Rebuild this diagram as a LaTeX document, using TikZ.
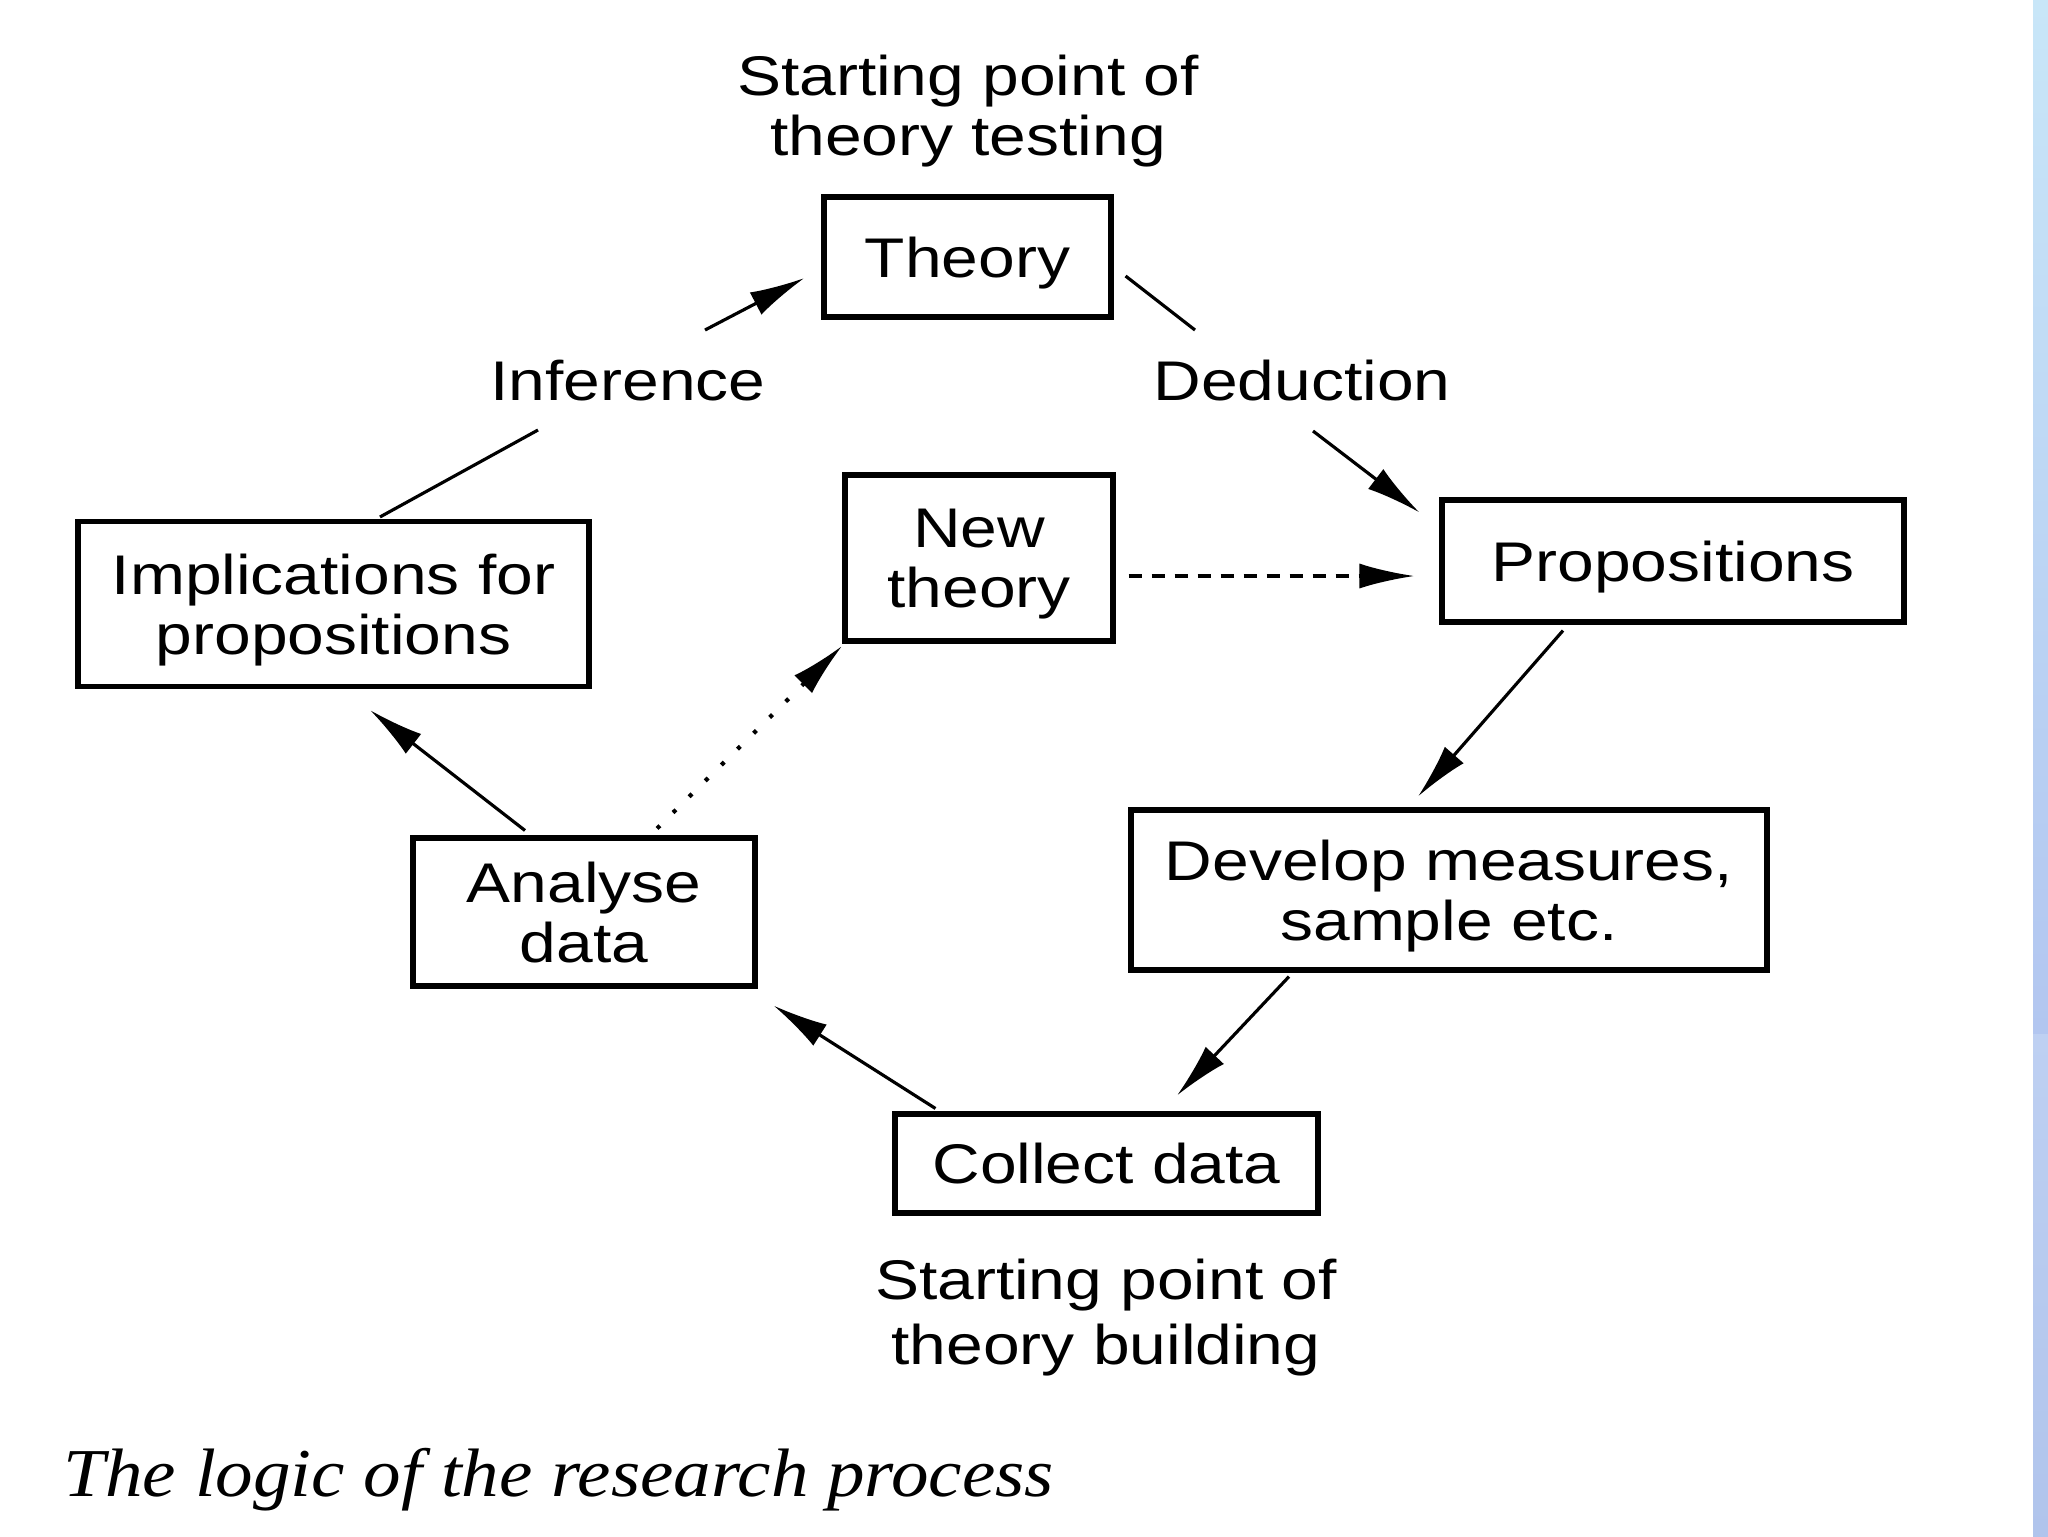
\documentclass[tikz,border=0pt]{standalone}
\usepackage{fontspec}
\setmainfont{Liberation Sans}[FakeStretch=1.18]
\newfontfamily\capfont{Liberation Serif}
\usepackage{graphicx}
\usetikzlibrary{arrows.meta,calc}
\newcommand{\diagfont}{\fontsize{15.9pt}{17.07pt}\selectfont}
\newcommand{\nd}[1]{\raisebox{0pt}[\height][0pt]{#1}}
\definecolor{stripA}{RGB}{200,230,248}
\definecolor{stripB}{RGB}{178,198,240}
\definecolor{stripC}{RGB}{190,208,242}
\definecolor{stripD}{RGB}{176,196,236}
\begin{document}
\begin{tikzpicture}[x=0.1mm,y=-0.1mm,
  box/.style={draw=black, line width=1.45pt, inner sep=0pt, align=center, font=\diagfont},
  lbl/.style={inner sep=0pt, align=center, font=\diagfont},
  conn/.style={line width=0.9pt, black},
  arr/.style={conn, -{Latex[length=5.5mm,width=2.5mm]}},
  dashedline/.style={dash pattern=on 1.3mm off 1.0mm},
  dottedline/.style={line width=1.2pt, dash pattern=on 0.4mm off 1.86mm},
]
\useasboundingbox (0,0) rectangle (2048,1536);
\fill[white] (0,0) rectangle (2048,1536);
\shade[top color=stripA, bottom color=stripB] (2033,0) rectangle (2048,1034);
\shade[top color=stripC, bottom color=stripD] (2033,1034) rectangle (2048,1536);

% labels
\node[lbl] (toptext) at (968,105) {Starting point of\\\nd{theory testing}};
\node[lbl] (inf) at (628,380) {\nd{Inference}};
\node[lbl] (ded) at (1302,380) {\nd{Deduction}};
\node[lbl, font=\fontsize{15.9pt}{18.5pt}\selectfont] (bottext) at (1106,1312) {Starting point of\\\nd{theory building}};

% boxes
\node[box, minimum width=28.7mm, minimum height=12mm] (theory) at (967.5,257) {\nd{Theory}};
\node[box, minimum width=51.1mm, minimum height=16.5mm] (impl) at (333.5,604) {Implications for\\\nd{propositions}};
\node[box, minimum width=26.8mm, minimum height=16.6mm] (newth) at (979,558) {New\\\nd{theory}};
\node[box, minimum width=46.2mm, minimum height=12.2mm] (prop) at (1673,561) {\nd{Propositions}};
\node[box, minimum width=63.6mm, minimum height=16mm] (dev) at (1449,890) {Develop measures,\\\nd{sample etc.}};
\node[box, minimum width=34.2mm, minimum height=14.8mm] (ana) at (584,912) {Analyse\\\nd{data}};
\node[box, minimum width=42.3mm, minimum height=9.9mm] (coll) at (1106.5,1163.5) {\nd{Collect data}};

% caption
\node[anchor=base west, inner sep=0pt, font=\capfont\itshape\fontsize{19.5pt}{21pt}\selectfont] (caption) at (63,1496) {\scalebox{1.095}[1]{The logic of the research process}};

% connectors
\draw[arr] ($(inf)+(77,-50)$) -- ($(theory.west)+(-17,21)$);
\draw[conn] ($(impl.north)+(46.5,-2)$) -- ($(inf)+(-90,50)$);
\draw[conn] ($(theory.east)+(12,19)$) -- ($(ded)+(-107,-50)$);
\draw[arr] ($(ded)+(11,51)$) -- ($(prop.north west)+(-20,15)$);
\draw[arr, dashedline] ($(newth.east)+(13,18)$) -- ($(prop.west)+(-25,15)$);
\draw[arr] ($(prop.south)+(-110,6)$) -- ($(dev.north)+(-31,-11)$);
\draw[arr] ($(dev.south)+(-160,4)$) -- ($(coll.north)+(70.5,-16)$);
\draw[arr] ($(coll.north west)+(43,-3)$) -- ($(ana.south east)+(16,17)$);
\draw[arr] ($(ana.north)+(-59,-5)$) -- ($(impl.south)+(36.5,21)$);
\draw[arr, dottedline] ($(ana.north)+(73,-7)$) -- ($(newth.south west)+(0,2)$);
\end{tikzpicture}
\end{document}
